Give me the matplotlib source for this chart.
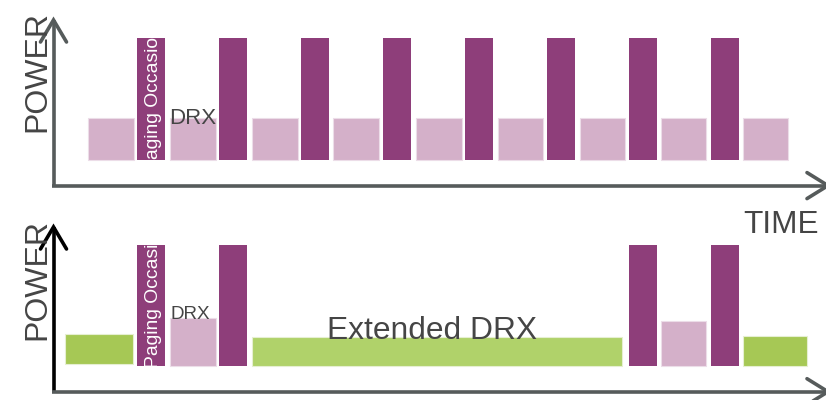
import matplotlib
matplotlib.use("Agg")
import matplotlib.pyplot as plt

plt.rcParams['font.family'] = ['Liberation Sans', 'DejaVu Sans']

# ---------------- data ----------------
# top panel: regular DRX cycle (time positions, power levels)
top_light_start = [88, 170, 252, 333, 416, 498, 580, 661, 743]
top_light_width = [46, 46, 46, 46, 46, 45, 45, 45, 45]
top_light_power = [42, 42, 42, 42, 42, 42, 42, 42, 42]
top_dark_start = [137, 219, 301, 383, 465, 547, 629, 711]
top_dark_width = [28, 28, 28, 28, 28, 28, 28, 28]
top_dark_power = [121.5] * 8

# bottom panel: extended DRX
bot_green_start = [65, 252, 743]
bot_green_width = [68, 370, 64]
bot_green_power = [30, 29, 30]
bot_green_base = [1.7, 0, 0]
bot_dark_start = [137, 219, 629, 711]
bot_dark_width = [28, 28, 28, 28]
bot_dark_power = [120.7] * 4
bot_light_start = [170, 661]
bot_light_width = [46, 45]
bot_light_power = [48, 44.7]

labels = {"power": "POWER", "time": "TIME", "drx": "DRX",
          "edrx": "Extended DRX", "paging": "Paging Occasion"}

# ---------------- styles ----------------
DARK = '#8e3e7a'
LIGHT = '#d4b0c9'
LIGHT_EDGE = '#ecdde8'
GREEN_D = '#a6c855'
GREEN_L = '#b0d26a'
TXT = '#454545'
AXG = '#565b5b'

fig = plt.figure(figsize=(8.26, 4.0), dpi=100)

# background axes in pixel coordinates for the drawn axes arrows
ax0 = fig.add_axes([0, 0, 1, 1])
ax0.set_xlim(0, 826)
ax0.set_ylim(400, 0)
ax0.axis('off')

lw = 2.6

def arrow_v(x, y0, y1, color):
    ax0.plot([x, x], [y0, y1], color=color, lw=lw, solid_capstyle='butt')
    ax0.plot([x - 13, x, x + 13], [y1 + 22, y1, y1 + 22], color=color, lw=lw,
             solid_capstyle='round', solid_joinstyle='miter', clip_on=False)

def arrow_h(y, x0, x1, color):
    ax0.plot([x0, x1], [y, y], color=color, lw=lw, solid_capstyle='butt', clip_on=False)
    ax0.plot([x1 - 21, x1, x1 - 21], [y - 13, y, y + 13], color=color, lw=lw,
             solid_capstyle='round', solid_joinstyle='miter', clip_on=False)

arrow_v(53.5, 186.5, 20, AXG)
arrow_h(185.6, 52.3, 828, AXG)
arrow_v(53.5, 393, 227, 'black')
arrow_h(391.7, 52.3, 828, AXG)

# ---------------- top panel ----------------
axt = fig.add_axes([0, 0.5, 1, 0.5])
axt.set_xlim(0, 826)
axt.set_ylim(159.5 - 200, 159.5)
axt.axis('off')

axt.bar(top_light_start, top_light_power, width=top_light_width, align='edge',
        color=LIGHT, edgecolor=LIGHT_EDGE, linewidth=0.8)
dark_top = axt.bar(top_dark_start, top_dark_power, width=top_dark_width,
                   align='edge', color=DARK, linewidth=0)

t = axt.text(157.5, -12.5, labels["paging"], rotation=90, rotation_mode='anchor',
             ha='left', va='baseline', color='white', fontsize=13.9)
t.set_clip_path(dark_top.patches[0])

axt.text(169, 35.2, labels["drx"], ha='left', va='baseline', color=TXT, fontsize=16)
axt.text(45, 159.5 - 71.5, labels["power"], rotation=90, rotation_mode='anchor',
         ha='center', va='baseline', color=TXT, fontsize=23)
axt.text(743, 159.5 - 233, labels["time"], ha='left', va='baseline', color=TXT,
         fontsize=22.7, clip_on=False)

# ---------------- bottom panel ----------------
axb = fig.add_axes([0, 0, 1, 0.5])
axb.set_xlim(0, 826)
axb.set_ylim(365.7 - 400, 365.7 - 200)
axb.axis('off')

axb.bar(bot_green_start, bot_green_power, width=bot_green_width, bottom=bot_green_base,
        align='edge', color=[GREEN_D, GREEN_L, GREEN_D], edgecolor='#e6efd2', linewidth=0.8)
axb.bar(bot_light_start, bot_light_power, width=bot_light_width, align='edge',
        color=LIGHT, edgecolor=LIGHT_EDGE, linewidth=0.8)
dark_bot = axb.bar(bot_dark_start, bot_dark_power, width=bot_dark_width,
                   align='edge', color=DARK, linewidth=0)

t2 = axb.text(157.5, -1.8, labels["paging"], rotation=90, rotation_mode='anchor',
              ha='left', va='baseline', color='white', fontsize=13.9)
t2.set_clip_path(dark_bot.patches[0])

axb.text(171, 365.7 - 319, labels["drx"], ha='left', va='baseline', color=TXT, fontsize=13.6)
axb.text(327, 365.7 - 339, labels["edrx"], ha='left', va='baseline', color=TXT, fontsize=22.9)
axb.text(45, 365.7 - 279, labels["power"], rotation=90, rotation_mode='anchor',
         ha='center', va='baseline', color=TXT, fontsize=23)

fig.savefig('out.png', dpi=100)
